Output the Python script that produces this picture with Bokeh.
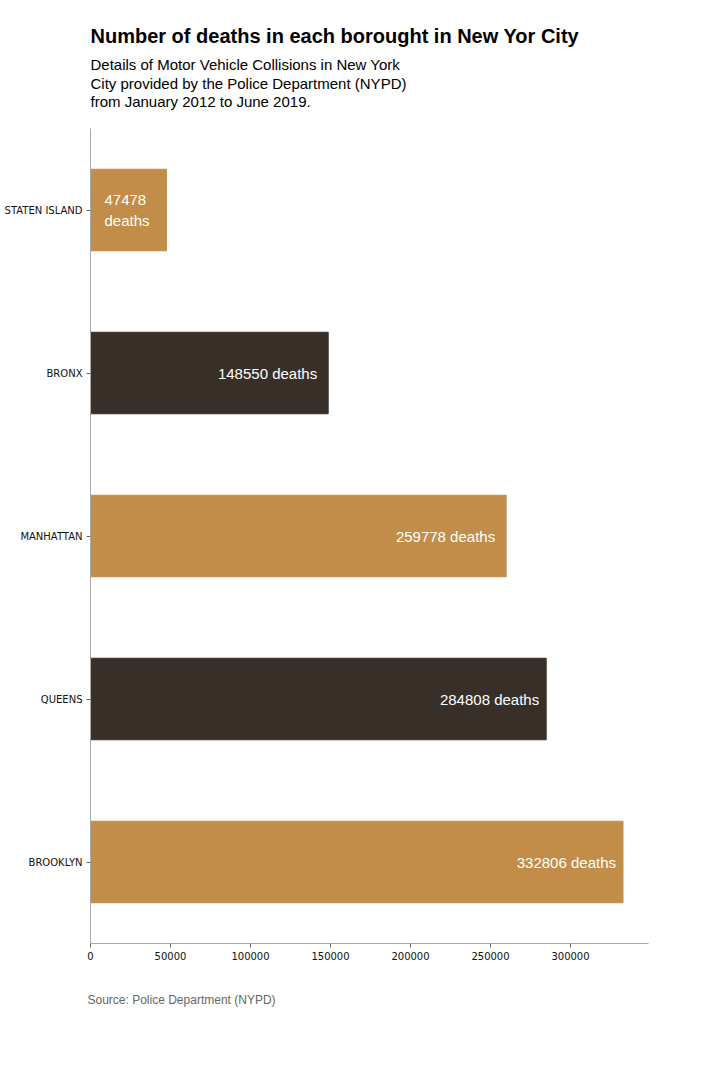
from bokeh.plotting import figure
from bokeh.models import ColumnDataSource, FactorRange, Range1d, FixedTicker, NumeralTickFormatter, Title
from bokeh.core.properties import value
from bokeh.embed import file_html
from bokeh.resources import INLINE

boroughs = ["STATEN ISLAND", "BRONX", "MANHATTAN", "QUEENS", "BROOKLYN"]
deaths = [47478, 148550, 259778, 284808, 332806]
bar_labels = ["47478\ndeaths", "148550 deaths", "259778 deaths", "284808 deaths", "332806 deaths"]
x_ticks = [0, 50000, 100000, 150000, 200000, 250000, 300000]

GOLD = "#c18d49"
DARK = "#382f29"
colors = [GOLD, DARK, GOLD, DARK, GOLD]
label_align = ["left", "right", "right", "right", "right"]
label_anchor = [0, deaths[1], deaths[2], deaths[3], deaths[4]]
label_offset = [14, -11, -11, -7, -7]

src = ColumnDataSource(dict(b=boroughs, d=deaths, c=colors, t=bar_labels,
                            a=label_align, lx=label_anchor, o=label_offset))

W, H = 720, 1080
FL, FR = 90, 648

p = figure(width=W, height=H, output_backend="svg", toolbar_location=None,
           y_range=FactorRange(factors=list(reversed(boroughs))),
           x_range=Range1d(0, 348750),
           min_border_left=FL, min_border_right=W - FR,
           min_border_top=0, min_border_bottom=0)
p.title = None
p.outline_line_color = None
p.xgrid.grid_line_color = None
p.ygrid.grid_line_color = None

p.hbar(y="b", right="d", left=0, height=0.5, color="c", source=src)
p.text(x="lx", y="b", text="t", text_align="a", x_offset="o", text_baseline="middle",
       text_color="white", text_font=value("Liberation Sans"), text_font_size="15px",
       text_line_height=1.25, source=src)

for ax in (p.xaxis[0], p.yaxis[0]):
    ax.axis_line_color = "#aaaaaa"
    ax.axis_line_width = 1
    ax.major_tick_line_color = "#666666"
    ax.major_tick_in = 0
    ax.major_tick_out = 4
    ax.minor_tick_line_color = None
    ax.major_label_text_font = "DejaVu Sans"
    ax.major_label_text_font_size = "10px"
    ax.major_label_text_color = "#111111"

p.xaxis.ticker = FixedTicker(ticks=x_ticks)
p.xaxis.formatter = NumeralTickFormatter(format="0")
p.xaxis.major_label_standoff = 4
p.yaxis.major_label_standoff = 4

def mk_title(txt, size, style="normal", color="#000000", standoff=0, offset=0, lh=1.0):
    return Title(text=txt, align="left", text_font="Liberation Sans", text_font_size=size,
                 text_font_style=style, text_color=color, standoff=standoff, offset=offset,
                 text_line_height=lh)

def spacer(h):
    return Title(text=" ", text_font_size="1px", standoff=h)

subtitle = ("Details of Motor Vehicle Collisions in New York\n"
            "City provided by the Police Department (NYPD)\n"
            "from January 2012 to June 2019.")

# above: first added sits closest to the frame
p.add_layout(spacer(15), "above")
p.add_layout(mk_title(subtitle, "15px", lh=1.1), "above")
p.add_layout(spacer(5), "above")
p.add_layout(mk_title("Number of deaths in each borought in New Yor City", "20px", "bold"), "above")
p.add_layout(spacer(19), "above")

# below: first added sits closest to the frame
p.add_layout(mk_title("Source: Police Department (NYPD)", "12px", color="#666666", standoff=56, offset=-3), "below")
p.add_layout(spacer(43), "below")

open("out.html", "w").write(file_html(p, INLINE))
